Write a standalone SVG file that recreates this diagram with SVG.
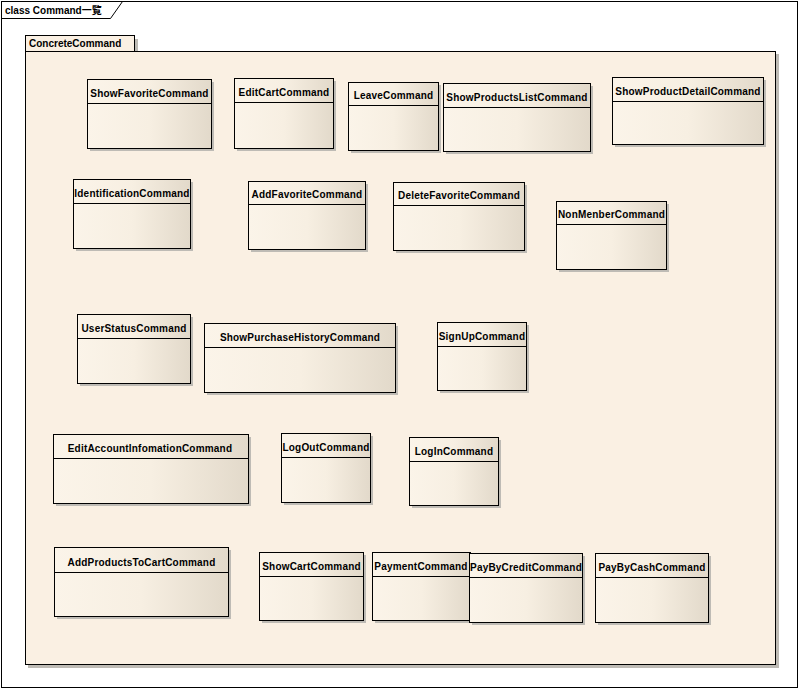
<svg xmlns="http://www.w3.org/2000/svg" width="800" height="690" viewBox="0 0 800 690">
  <defs>
    <linearGradient id="classFill" x1="0" y1="0" x2="1" y2="0">
      <stop offset="0" stop-color="#FBF4E9"/>
      <stop offset="0.5" stop-color="#F7EFE2"/>
      <stop offset="1" stop-color="#E2D9CA"/>
    </linearGradient>
  </defs>
  <style>
    .frame { fill: #FFFFFF; stroke: #000000; stroke-width: 1; }
    .tabline { fill: none; stroke: #000000; stroke-width: 1; }
    .pkg { fill: #FAF0E3; stroke: #000000; stroke-width: 1; }
    .shadow { fill: #BEBBB5; }
    .box { fill: url(#classFill); stroke: #000000; stroke-width: 1; }
    .sep { stroke: #000000; stroke-width: 1; }
    .title { font-family: "Liberation Sans", "Noto Sans CJK JP", sans-serif; font-size: 10px; font-weight: bold; fill: #000000; }
    .name { font-family: "Liberation Sans", "Noto Sans CJK JP", sans-serif; font-size: 10px; font-weight: bold; fill: #000000; text-anchor: middle; letter-spacing: 0.2px; }
  </style>

  <!-- diagram frame -->
  <rect class="frame" x="1.5" y="1.5" width="796" height="686"/>
  <polyline class="tabline" points="1.5,18.5 110.5,18.5 122.5,1.5"/>
  <text class="title" x="5" y="14">class Command一覧</text>

  <!-- package ConcreteCommand -->
  <g id="ConcreteCommand">
    <rect class="shadow" x="28" y="39" width="110" height="16"/>
    <rect class="shadow" x="28" y="54" width="751" height="614"/>
    <rect class="pkg" x="25.5" y="35.5" width="109" height="16"/>
    <rect class="pkg" x="25.5" y="51.5" width="750" height="613"/>
    <text class="title" x="29" y="47">ConcreteCommand</text>
  </g>

  <!-- classes -->
  <g id="ShowFavoriteCommand">
    <rect class="shadow" x="90" y="82" width="124" height="69"/>
    <rect class="box" x="87.5" y="79.5" width="124" height="69"/>
    <line class="sep" x1="87.5" y1="103.5" x2="211.5" y2="103.5"/>
    <text class="name" x="149.5" y="97">ShowFavoriteCommand</text>
  </g>
  <g id="EditCartCommand">
    <rect class="shadow" x="237" y="81" width="99" height="70"/>
    <rect class="box" x="234.5" y="78.5" width="99" height="70"/>
    <line class="sep" x1="234.5" y1="102.5" x2="333.5" y2="102.5"/>
    <text class="name" x="284" y="96">EditCartCommand</text>
  </g>
  <g id="LeaveCommand">
    <rect class="shadow" x="351" y="85" width="90" height="68"/>
    <rect class="box" x="348.5" y="82.5" width="90" height="68"/>
    <line class="sep" x1="348.5" y1="105.5" x2="438.5" y2="105.5"/>
    <text class="name" x="393.5" y="99">LeaveCommand</text>
  </g>
  <g id="ShowProductsListCommand">
    <rect class="shadow" x="446" y="86" width="147" height="68"/>
    <rect class="box" x="443.5" y="83.5" width="147" height="68"/>
    <line class="sep" x1="443.5" y1="107.5" x2="590.5" y2="107.5"/>
    <text class="name" x="517" y="101">ShowProductsListCommand</text>
  </g>
  <g id="ShowProductDetailCommand">
    <rect class="shadow" x="615" y="80" width="151" height="67"/>
    <rect class="box" x="612.5" y="77.5" width="151" height="67"/>
    <line class="sep" x1="612.5" y1="101.5" x2="763.5" y2="101.5"/>
    <text class="name" x="688" y="95">ShowProductDetailCommand</text>
  </g>
  <g id="IdentificationCommand">
    <rect class="shadow" x="76" y="182" width="117" height="69"/>
    <rect class="box" x="73.5" y="179.5" width="117" height="69"/>
    <line class="sep" x1="73.5" y1="203.5" x2="190.5" y2="203.5"/>
    <text class="name" x="132" y="197">IdentificationCommand</text>
  </g>
  <g id="AddFavoriteCommand">
    <rect class="shadow" x="251" y="184" width="117" height="68"/>
    <rect class="box" x="248.5" y="181.5" width="117" height="68"/>
    <line class="sep" x1="248.5" y1="204.5" x2="365.5" y2="204.5"/>
    <text class="name" x="307" y="198">AddFavoriteCommand</text>
  </g>
  <g id="DeleteFavoriteCommand">
    <rect class="shadow" x="396" y="185" width="131" height="68"/>
    <rect class="box" x="393.5" y="182.5" width="131" height="68"/>
    <line class="sep" x1="393.5" y1="205.5" x2="524.5" y2="205.5"/>
    <text class="name" x="459" y="199">DeleteFavoriteCommand</text>
  </g>
  <g id="NonMenberCommand">
    <rect class="shadow" x="559" y="204" width="110" height="68"/>
    <rect class="box" x="556.5" y="201.5" width="110" height="68"/>
    <line class="sep" x1="556.5" y1="224.5" x2="666.5" y2="224.5"/>
    <text class="name" x="611.5" y="218">NonMenberCommand</text>
  </g>
  <g id="UserStatusCommand">
    <rect class="shadow" x="80" y="317" width="113" height="69"/>
    <rect class="box" x="77.5" y="314.5" width="113" height="69"/>
    <line class="sep" x1="77.5" y1="338.5" x2="190.5" y2="338.5"/>
    <text class="name" x="134" y="332">UserStatusCommand</text>
  </g>
  <g id="ShowPurchaseHistoryCommand">
    <rect class="shadow" x="207" y="326" width="191" height="69"/>
    <rect class="box" x="204.5" y="323.5" width="191" height="69"/>
    <line class="sep" x1="204.5" y1="347.5" x2="395.5" y2="347.5"/>
    <text class="name" x="300" y="341">ShowPurchaseHistoryCommand</text>
  </g>
  <g id="SignUpCommand">
    <rect class="shadow" x="440" y="325" width="89" height="68"/>
    <rect class="box" x="437.5" y="322.5" width="89" height="68"/>
    <line class="sep" x1="437.5" y1="346.5" x2="526.5" y2="346.5"/>
    <text class="name" x="482" y="340">SignUpCommand</text>
  </g>
  <g id="EditAccountInfomationCommand">
    <rect class="shadow" x="56" y="437" width="195" height="69"/>
    <rect class="box" x="53.5" y="434.5" width="195" height="69"/>
    <line class="sep" x1="53.5" y1="458.5" x2="248.5" y2="458.5"/>
    <text class="name" x="150" y="452">EditAccountInfomationCommand</text>
  </g>
  <g id="LogOutCommand">
    <rect class="shadow" x="284" y="436" width="89" height="69"/>
    <rect class="box" x="281.5" y="433.5" width="89" height="69"/>
    <line class="sep" x1="281.5" y1="457.5" x2="370.5" y2="457.5"/>
    <text class="name" x="326" y="451">LogOutCommand</text>
  </g>
  <g id="LogInCommand">
    <rect class="shadow" x="412" y="440" width="89" height="68"/>
    <rect class="box" x="409.5" y="437.5" width="89" height="68"/>
    <line class="sep" x1="409.5" y1="461.5" x2="498.5" y2="461.5"/>
    <text class="name" x="454" y="455">LogInCommand</text>
  </g>
  <g id="AddProductsToCartCommand">
    <rect class="shadow" x="57" y="550" width="174" height="69"/>
    <rect class="box" x="54.5" y="547.5" width="174" height="69"/>
    <line class="sep" x1="54.5" y1="572.5" x2="228.5" y2="572.5"/>
    <text class="name" x="141.5" y="566">AddProductsToCartCommand</text>
  </g>
  <g id="ShowCartCommand">
    <rect class="shadow" x="262" y="555" width="104" height="68"/>
    <rect class="box" x="259.5" y="552.5" width="104" height="68"/>
    <line class="sep" x1="259.5" y1="576.5" x2="363.5" y2="576.5"/>
    <text class="name" x="311.5" y="570">ShowCartCommand</text>
  </g>
  <g id="PaymentCommand">
    <rect class="shadow" x="375" y="555" width="98" height="68"/>
    <rect class="box" x="372.5" y="552.5" width="98" height="68"/>
    <line class="sep" x1="372.5" y1="576.5" x2="470.5" y2="576.5"/>
    <text class="name" x="421" y="570">PaymentCommand</text>
  </g>
  <g id="PayByCreditCommand">
    <rect class="shadow" x="472" y="556" width="113" height="69"/>
    <rect class="box" x="469.5" y="553.5" width="113" height="69"/>
    <line class="sep" x1="469.5" y1="577.5" x2="582.5" y2="577.5"/>
    <text class="name" x="526" y="571">PayByCreditCommand</text>
  </g>
  <g id="PayByCashCommand">
    <rect class="shadow" x="598" y="556" width="113" height="69"/>
    <rect class="box" x="595.5" y="553.5" width="113" height="69"/>
    <line class="sep" x1="595.5" y1="577.5" x2="708.5" y2="577.5"/>
    <text class="name" x="652" y="571">PayByCashCommand</text>
  </g>

  <!-- no connectors between the classes -->
  <g id="connectors"/>
</svg>
